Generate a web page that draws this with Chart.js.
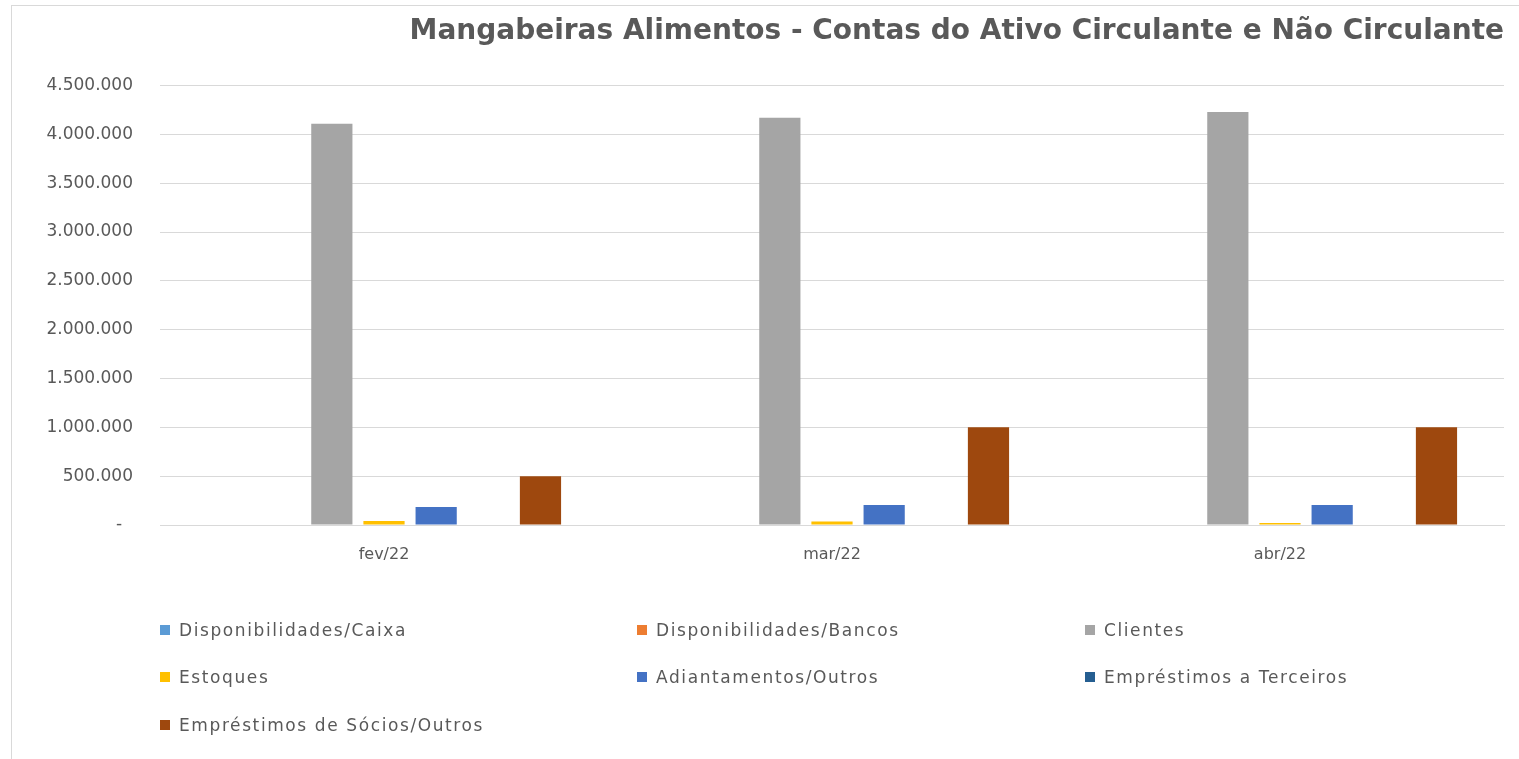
<!DOCTYPE html>
<html lang="pt-BR">
<head>
<meta charset="utf-8">
<script src="https://cdn.jsdelivr.net/npm/chart.js"></script>
<style>
  html, body { margin: 0; padding: 0; background: #fff; }
  #wrap { position: relative; width: 1519px; height: 759px; overflow: hidden; }
  #frame { position: absolute; left: 11px; top: 5px; width: 1530px; height: 770px; border: 1px solid #d9d9d9; box-sizing: border-box; }
  #chart { position: absolute; left: 0; top: 0; }
  #legend { position: absolute; left: 0; top: 0; width: 1519px; height: 759px; pointer-events: none; font-family: "DejaVu Sans", sans-serif; font-size: 17px; letter-spacing: 1.6px; color: #595959; }
  .item { position: absolute; display: flex; align-items: center; white-space: nowrap; }
  .box { width: 10px; height: 10px; margin-right: 9px; }
</style>
</head>
<body>
<div id="wrap">
  <div id="frame"></div>
  <canvas id="chart" width="1519" height="759"></canvas>
  <div id="legend"></div>
</div>
<script>
// dados
const meses = ['fev/22', 'mar/22', 'abr/22'];
const caixa = [0, 0, 0];
const bancos = [0, 0, 0];
const clientes = [4110000, 4170000, 4230000];
const estoques = [40000, 35000, 20000];
const adiantamentos = [185000, 205000, 205000];
const terceiros = [0, 0, 0];
const socios = [500000, 1000000, 1000000];
const ticksY = [0, 500000, 1000000, 1500000, 2000000, 2500000, 3000000, 3500000, 4000000, 4500000];

const series = [
    { label: 'Disponibilidades/Caixa', data: caixa, color: '#5b9bd5' },
    { label: 'Disponibilidades/Bancos', data: bancos, color: '#ed7d31' },
    { label: 'Clientes', data: clientes, color: '#a5a5a5' },
    { label: 'Estoques', data: estoques, color: '#ffc000' },
    { label: 'Adiantamentos/Outros', data: adiantamentos, color: '#4472c4' },
    { label: 'Empréstimos a Terceiros', data: terceiros, color: '#255e91' },
    { label: 'Empréstimos de Sócios/Outros', data: socios, color: '#9e480e' }
];

// formato contábil: 4.500.000 e "-" para zero
function formatar(v) {
    if (v === 0) return '-  ';
    return String(v).replace(/\B(?=(\d{3})+(?!\d))/g, '.');
}

const chart = new Chart(document.getElementById('chart'), {
    type: 'bar',
    data: {
        labels: meses,
        datasets: series.map(s => ({
            label: s.label,
            data: s.data,
            backgroundColor: s.color,
            borderWidth: 0,
            categoryPercentage: 0.815,
            barPercentage: 0.79
        }))
    },
    options: {
        responsive: false,
        animation: false,
        layout: { padding: { left: 0, right: 15, top: 0, bottom: 190 } },
        plugins: {
            legend: { display: false },
            tooltip: { enabled: false },
            title: {
                display: true,
                text: 'Mangabeiras Alimentos - Contas do Ativo Circulante e Não Circulante',
                align: 'end',
                color: '#595959',
                font: { family: '"DejaVu Sans", sans-serif', size: 28, weight: 'bold' },
                padding: { top: 15, bottom: 37 }
            }
        },
        scales: {
            x: {
                grid: { display: false },
                border: { color: '#d9d9d9' },
                ticks: {
                    color: '#595959',
                    font: { family: '"DejaVu Sans", sans-serif', size: 16 },
                    padding: 12
                },
                afterFit: scale => { scale.height = 44; }
            },
            y: {
                min: 0,
                max: 4500000,
                afterBuildTicks: scale => { scale.ticks = ticksY.map(v => ({ value: v })); },
                grid: { color: '#d9d9d9', drawTicks: false },
                border: { display: false },
                ticks: {
                    color: '#595959',
                    font: { family: '"DejaVu Sans", sans-serif', size: 17 },
                    padding: 27,
                    callback: v => formatar(v)
                },
                afterFit: scale => { scale.width = 160; }
            }
        }
    }
});

// legenda em 3 colunas
const colX = [160, 637, 1085];
const rowY = [630, 677, 725];
const legend = document.getElementById('legend');
chart.data.datasets.forEach((ds, i) => {
    const item = document.createElement('div');
    item.className = 'item';
    item.style.left = colX[i % 3] + 'px';
    item.style.top = (rowY[Math.floor(i / 3)] - 10) + 'px';
    item.style.height = '20px';
    item.innerHTML = `<span class="box" style="background:${ds.backgroundColor}"></span><span>${ds.label}</span>`;
    legend.appendChild(item);
});
</script>
</body>
</html>
